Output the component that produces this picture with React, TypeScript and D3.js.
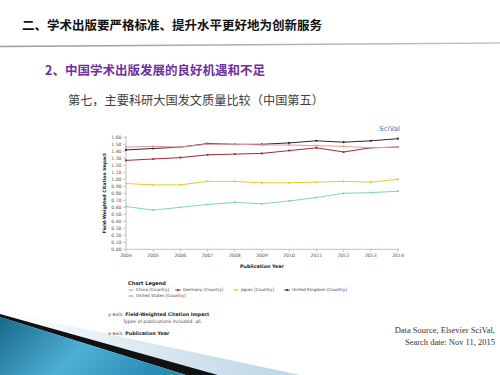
import * as d3 from 'd3'

const years = [2004, 2005, 2006, 2007, 2008, 2009, 2010, 2011, 2012, 2013, 2014]
const china = [0.61, 0.56, 0.6, 0.64, 0.67, 0.65, 0.69, 0.74, 0.8, 0.81, 0.83]
const germany = [1.27, 1.29, 1.31, 1.35, 1.36, 1.37, 1.41, 1.45, 1.39, 1.45, 1.46]
const japan = [0.94, 0.92, 0.92, 0.97, 0.97, 0.95, 0.95, 0.96, 0.97, 0.96, 1.0]
const uk = [1.42, 1.44, 1.46, 1.51, 1.5, 1.5, 1.52, 1.55, 1.53, 1.55, 1.58]
const us = [1.46, 1.47, 1.46, 1.5, 1.5, 1.49, 1.49, 1.48, 1.47, 1.45, 1.46]
const yTicks = d3.range(0, 17).map(i => i / 10)

const series = [
  { name: 'China [Country]', values: china, color: '#7fd3cc' },
  { name: 'Germany [Country]', values: germany, color: '#a8282e' },
  { name: 'Japan [Country]', values: japan, color: '#e3cc2a' },
  { name: 'United Kingdom [Country]', values: uk, color: '#2a2a2a' },
  { name: 'United States [Country]', values: us, color: '#e59a9a' },
]

const FONT = '"DejaVu Sans", Verdana, sans-serif'
const CJK = '"Noto Sans CJK SC", sans-serif'

export default function App() {
  const x = d3.scaleLinear().domain([2004, 2014]).range([126, 398])
  const y = d3.scaleLinear().domain([0, 1.6]).range([249.3, 137.3])
  const line = d3
    .line<number>()
    .x((_, i) => x(years[i]))
    .y(d => y(d))

  // legend slots (two rows, like the SciVal export)
  const legendPos = [
    { x: 128, y: 290 },
    { x: 175, y: 290 },
    { x: 233, y: 290 },
    { x: 284, y: 290 },
    { x: 128, y: 296 },
  ]

  return (
    <div style={{ position: 'fixed', left: 0, top: 0 }}>
      <svg width={500} height={375} style={{ display: 'block', background: '#fff' }}>
        <defs>
          <linearGradient id="rule" x1="0" x2="1" y1="0" y2="0">
            <stop offset="0%" stopColor="#9a9a9a" />
            <stop offset="100%" stopColor="#c4c4c4" />
          </linearGradient>
          <linearGradient id="blue" x1="0" x2="1" y1="0" y2="0.3">
            <stop offset="0%" stopColor="#17698a" />
            <stop offset="55%" stopColor="#4fb0d6" />
            <stop offset="100%" stopColor="#2b8cb6" />
          </linearGradient>
          <linearGradient id="pale" x1="0" x2="1" y1="0" y2="0">
            <stop offset="0%" stopColor="#ffffff" />
            <stop offset="60%" stopColor="#d2e4ee" />
            <stop offset="100%" stopColor="#bcd7e6" />
          </linearGradient>
        </defs>

        {/* slide header */}
        <text x={22} y={30} fontFamily={CJK} fontSize={12.5} fontWeight={700} fill="#111">
          二、学术出版要严格标准、提升水平更好地为创新服务
        </text>
        <path d="M0,46.5 L500,43" stroke="url(#rule)" strokeWidth={1.6} />
        <text x={45} y={75} fontFamily={CJK} fontSize={12.5} fontWeight={700} fill="#7030a0">
          2、中国学术出版发展的良好机遇和不足
        </text>
        <text x={68} y={105} fontFamily={CJK} fontSize={12.2} fill="#404040">
          第七，主要科研大国发文质量比较（中国第五）
        </text>

        {/* bottom-left swoosh */}
        <path d="M0,311 L300,375 L218,375 L0,314 Z" fill="url(#pale)" />
        <path d="M0,314 L218,375 L186,375 L0,317 Z" fill="#111" />
        <path d="M0,317 L186,375 L0,375 Z" fill="url(#blue)" />

        {/* chart */}
        <text x={400} y={131} textAnchor="end" fontFamily={FONT} fontSize={7} fill="#3b78b4">
          SciVal
        </text>
        <line x1={126} x2={126} y1={136} y2={249.3} stroke="#999" strokeWidth={0.6} />
        <line x1={126} x2={399} y1={249.3} y2={249.3} stroke="#999" strokeWidth={0.6} />
        {yTicks.map(t => (
          <g key={t}>
            <line x1={123} x2={126} y1={y(t)} y2={y(t)} stroke="#999" strokeWidth={0.5} />
            <text
              x={121.5}
              y={y(t)}
              dy="0.35em"
              textAnchor="end"
              fontFamily={FONT}
              fontSize={4.6}
              fill="#555"
            >
              {t.toFixed(2)}
            </text>
          </g>
        ))}
        {years.map(yr => (
          <g key={yr}>
            <line x1={x(yr)} x2={x(yr)} y1={249.3} y2={252} stroke="#999" strokeWidth={0.5} />
            <text x={x(yr)} y={257} textAnchor="middle" fontFamily={FONT} fontSize={4.6} fill="#555">
              {yr}
            </text>
          </g>
        ))}
        <text
          transform={`translate(106,${(137.3 + 249.3) / 2}) rotate(-90)`}
          textAnchor="middle"
          fontFamily={FONT}
          fontSize={4.6}
          fontWeight={700}
          fill="#222"
        >
          Field-Weighted Citation Impact
        </text>
        <text x={262} y={268} textAnchor="middle" fontFamily={FONT} fontSize={4.8} fontWeight={700} fill="#222">
          Publication Year
        </text>

        {series.map(s => (
          <g key={s.name}>
            <path d={line(s.values) ?? ''} fill="none" stroke={s.color} strokeWidth={1} />
            {s.values.map((v, i) => (
              <circle key={i} cx={x(years[i])} cy={y(v)} r={1.1} fill={s.color} />
            ))}
          </g>
        ))}

        {/* legend */}
        <text x={128} y={285} fontFamily={FONT} fontSize={5} fontWeight={700} fill="#222">
          Chart Legend
        </text>
        {series.map((s, i) => (
          <g key={s.name} transform={`translate(${legendPos[i].x},${legendPos[i].y})`}>
            <line x1={0} x2={6} y1={0} y2={0} stroke={s.color} strokeWidth={0.8} />
            <circle cx={3} cy={0} r={1.1} fill={s.color} />
            <text x={8} y={0} dy="0.35em" fontFamily={FONT} fontSize={4.2} fill="#444">
              {s.name}
            </text>
          </g>
        ))}

        {/* axis notes */}
        <text x={108} y={316} fontFamily={FONT} fontSize={4.8} fill="#444">
          y-axis: <tspan fontWeight={700} fill="#222">Field-Weighted Citation Impact</tspan>
        </text>
        <text x={123} y={322.5} fontFamily={FONT} fontSize={4.6} fill="#444">
          Types of publications included: all.
        </text>
        <text x={108} y={335} fontFamily={FONT} fontSize={4.8} fill="#444">
          x-axis: <tspan fontWeight={700} fill="#222">Publication Year</tspan>
        </text>

        {/* source */}
        <text x={495} y={333} textAnchor="end" fontFamily='"Liberation Serif", serif' fontSize={8.5} fill="#333">
          Data Source, Elsevier SciVal,
        </text>
        <text x={495} y={345} textAnchor="end" fontFamily='"Liberation Serif", serif' fontSize={8.5} fill="#333">
          Search date: Nov 11, 2015
        </text>
      </svg>
    </div>
  )
}
